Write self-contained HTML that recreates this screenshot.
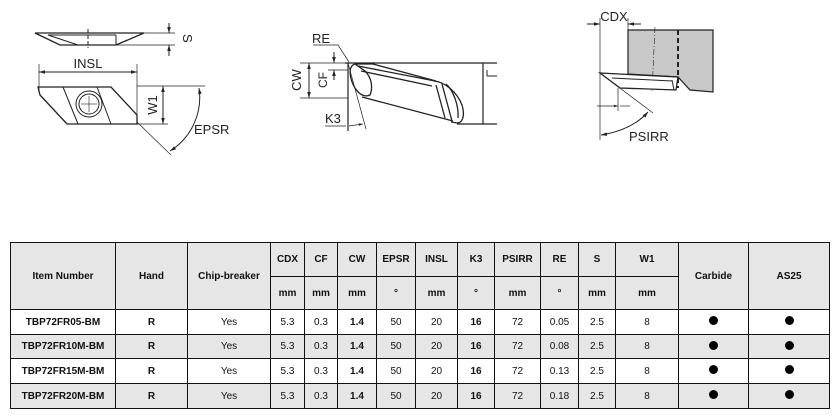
<!DOCTYPE html>
<html><head><meta charset="utf-8"><style>
html,body{margin:0;padding:0;background:#fff;width:839px;height:416px;overflow:hidden;font-family:"Liberation Sans",Arial,sans-serif}
svg{position:absolute;left:0;top:0}
table{position:absolute;left:10px;top:242px;border-collapse:collapse;table-layout:fixed;width:819px}
td{border:1.5px solid #111;text-align:center;font-size:10px;color:#111;padding:0;overflow:hidden;white-space:nowrap}
.h td{background:#e6e6e6;font-weight:bold}
.g td{background:#e6e6e6}
.b{font-weight:bold}
.dot{display:inline-block;width:9px;height:9px;border-radius:50%;background:#000}
</style></head><body>
<svg width="839" height="240" viewBox="0 0 839 240" font-family="Liberation Sans, sans-serif" fill="none" stroke="#222" stroke-width="1">
<defs><marker id="a" viewBox="0 0 10 10" refX="10" refY="5" markerWidth="6" markerHeight="6" orient="auto-start-reverse"><path d="M0,2 L10,5 L0,8z" fill="#222" stroke="none"/></marker></defs>
<!-- drawing 1 -->
<polygon points="35,33 144,33 116,45 60,45" stroke-width="1.3"/>
<line x1="48" y1="35" x2="116" y2="35"/><line x1="48" y1="35" x2="78" y2="45"/><line x1="116" y1="35" x2="116" y2="45"/>
<line x1="88" y1="29" x2="88" y2="48" stroke-dasharray="4,2"/>
<line x1="116" y1="33" x2="175" y2="33" stroke-width=".7"/><line x1="116" y1="45" x2="175" y2="45" stroke-width=".7"/>
<line x1="169" y1="23" x2="169" y2="33" marker-end="url(#a)"/><line x1="169" y1="56" x2="169" y2="45" marker-end="url(#a)"/>
<text x="178" y="39" transform="rotate(90 183 39)" font-size="13" fill="#222" stroke="none">S</text>
<line x1="39" y1="64" x2="39" y2="92" stroke-width=".7"/><line x1="137" y1="64" x2="137" y2="120" stroke-width=".7"/>
<line x1="39" y1="72" x2="137" y2="72" marker-start="url(#a)" marker-end="url(#a)"/>
<text x="88" y="68" text-anchor="middle" font-size="13" fill="#222" stroke="none">INSL</text>
<polygon points="38,87 111,87 137,115 137,124 67,124 40,95" stroke-width="1.3"/>
<line x1="63" y1="87" x2="78" y2="124"/><line x1="97" y1="87" x2="111" y2="124"/>
<circle cx="89" cy="104" r="13"/><circle cx="89" cy="104" r="10"/>
<line x1="81" y1="104" x2="97" y2="104" stroke-width=".6"/><line x1="89" y1="96" x2="89" y2="112" stroke-width=".6"/>
<line x1="137" y1="86" x2="205" y2="86" stroke-width=".7"/><line x1="137" y1="124" x2="168" y2="124" stroke-width=".7"/>
<line x1="163" y1="86" x2="163" y2="124" marker-start="url(#a)" marker-end="url(#a)"/>
<text x="153" y="105" transform="rotate(-90 153 105)" text-anchor="middle" font-size="13" fill="#222" stroke="none" dy="4">W1</text>
<line x1="137" y1="122" x2="171" y2="155" stroke-width=".7"/>
<path d="M199,88 A63,63 0 0 1 170,151" marker-start="url(#a)" marker-end="url(#a)"/>
<text x="194" y="134" font-size="13" fill="#222" stroke="none">EPSR</text>
<!-- drawing 2 -->
<text x="312" y="43" font-size="13" fill="#222" stroke="none">RE</text>
<polyline points="313,45 338,45 349,62" stroke-width=".7"/>
<line x1="345" y1="63" x2="497" y2="63" stroke-width="1.3"/>
<line x1="483" y1="63" x2="483" y2="124" stroke-width="1.2"/>
<line x1="487" y1="76" x2="497" y2="76"/><line x1="487" y1="70" x2="487" y2="76"/>
<line x1="457" y1="124" x2="497" y2="124" stroke-width="1.2"/>
<line x1="348" y1="63" x2="348" y2="131" stroke-width="1.2"/>
<line x1="348" y1="63" x2="366" y2="129" stroke-width=".7"/>
<line x1="325" y1="126" x2="346" y2="126" stroke-width=".7"/>
<line x1="349" y1="126" x2="363" y2="124" marker-end="url(#a)" stroke-width=".7"/>
<text x="325" y="123" font-size="13" fill="#222" stroke="none">K3</text>
<line x1="300" y1="63" x2="348" y2="63" stroke-width=".7"/><line x1="300" y1="98" x2="348" y2="98" stroke-width=".7"/>
<line x1="309" y1="63" x2="309" y2="98" marker-start="url(#a)" marker-end="url(#a)"/>
<text x="297" y="80" transform="rotate(-90 297 80)" text-anchor="middle" font-size="13" fill="#222" stroke="none" dy="4">CW</text>
<line x1="328" y1="70" x2="348" y2="70" stroke-width=".7"/>
<line x1="334" y1="52" x2="334" y2="63" marker-end="url(#a)"/><line x1="334" y1="80" x2="334" y2="70" marker-end="url(#a)"/>
<text x="323" y="80" transform="rotate(-90 323 80)" text-anchor="middle" font-size="12" fill="#222" stroke="none" dy="4">CF</text>
<g stroke-width="1.3">
<path d="M355,64 C348,66 349,78 355,88 C360,96 366,97 370,95 C373,88 372,78 365,71 Z"/>
<line x1="358" y1="66" x2="435" y2="81"/>
<line x1="373" y1="64" x2="436" y2="81"/>
<line x1="361" y1="71" x2="432" y2="86"/>
<line x1="362" y1="97" x2="453" y2="121"/>
<path d="M434,81 C445,82 457,92 462,105 C465,115 463,122 458,123 L451,122"/>
<path d="M436,85 L445,118 M442,84 L452,121 M446,84 C453,90 459,105 458,118"/>
<line x1="355" y1="64" x2="375" y2="64"/>
</g>
<!-- drawing 3 -->
<polygon points="628,30 713,30 713,92 690,90 678,77 628,74" fill="#c8c8c8" stroke="#222" stroke-width="1.2"/>
<line x1="678" y1="30" x2="678" y2="88" stroke-width="2" stroke-dasharray="5,3"/>
<line x1="655" y1="27" x2="652" y2="92" stroke-width=".6" stroke-dasharray="6,2,1,2"/>
<polygon points="600,73 678,77 676,90 620,88" fill="#fff" stroke-width="1.3"/>
<line x1="612" y1="78" x2="672" y2="81"/><line x1="672" y1="80" x2="674" y2="90"/>
<line x1="600" y1="18" x2="600" y2="140" stroke-width=".7"/><line x1="628" y1="18" x2="628" y2="30" stroke-width=".7"/>
<line x1="587" y1="24" x2="600" y2="24" marker-end="url(#a)"/><line x1="641" y1="24" x2="628" y2="24" marker-end="url(#a)"/>
<text x="614" y="21" text-anchor="middle" font-size="13" fill="#222" stroke="none">CDX</text>
<line x1="600" y1="73" x2="653" y2="113" stroke-width=".7"/>
<line x1="618" y1="88" x2="618" y2="111" stroke-width=".7"/>
<line x1="597" y1="106" x2="618" y2="106" marker-end="url(#a)" stroke-width=".7"/><line x1="630" y1="106" x2="620" y2="106" stroke-width=".7"/>
<path d="M601,135 Q632,130 648,112" marker-start="url(#a)" marker-end="url(#a)"/>
<text x="629" y="141" font-size="13" fill="#222" stroke="none">PSIRR</text>
</svg>
<table>
<colgroup><col style="width:105px"><col style="width:72px"><col style="width:83px"><col style="width:34px"><col style="width:33px"><col style="width:39px"><col style="width:39px"><col style="width:42px"><col style="width:37px"><col style="width:46px"><col style="width:38px"><col style="width:37px"><col style="width:63px"><col style="width:70px"><col style="width:81px"></colgroup>
<tr class="h" style="height:34px"><td rowspan="2">Item Number</td><td rowspan="2">Hand</td><td rowspan="2">Chip-breaker</td><td>CDX</td><td>CF</td><td>CW</td><td>EPSR</td><td>INSL</td><td>K3</td><td>PSIRR</td><td>RE</td><td>S</td><td>W1</td><td rowspan="2">Carbide</td><td rowspan="2">AS25</td></tr>
<tr class="h" style="height:33px"><td>mm</td><td>mm</td><td>mm</td><td>°</td><td>mm</td><td>°</td><td>mm</td><td>°</td><td>mm</td><td>mm</td></tr>
<tr style="height:25px"><td class="b">TBP72FR05-BM</td><td class="b">R</td><td>Yes</td><td>5.3</td><td>0.3</td><td class="b">1.4</td><td>50</td><td>20</td><td class="b">16</td><td>72</td><td>0.05</td><td>2.5</td><td>8</td><td><span class="dot"></span></td><td><span class="dot"></span></td></tr>
<tr class="g" style="height:24px"><td class="b">TBP72FR10M-BM</td><td class="b">R</td><td>Yes</td><td>5.3</td><td>0.3</td><td class="b">1.4</td><td>50</td><td>20</td><td class="b">16</td><td>72</td><td>0.08</td><td>2.5</td><td>8</td><td><span class="dot"></span></td><td><span class="dot"></span></td></tr>
<tr style="height:25px"><td class="b">TBP72FR15M-BM</td><td class="b">R</td><td>Yes</td><td>5.3</td><td>0.3</td><td class="b">1.4</td><td>50</td><td>20</td><td class="b">16</td><td>72</td><td>0.13</td><td>2.5</td><td>8</td><td><span class="dot"></span></td><td><span class="dot"></span></td></tr>
<tr class="g" style="height:25px"><td class="b">TBP72FR20M-BM</td><td class="b">R</td><td>Yes</td><td>5.3</td><td>0.3</td><td class="b">1.4</td><td>50</td><td>20</td><td class="b">16</td><td>72</td><td>0.18</td><td>2.5</td><td>8</td><td><span class="dot"></span></td><td><span class="dot"></span></td></tr>
</table>
</body></html>
